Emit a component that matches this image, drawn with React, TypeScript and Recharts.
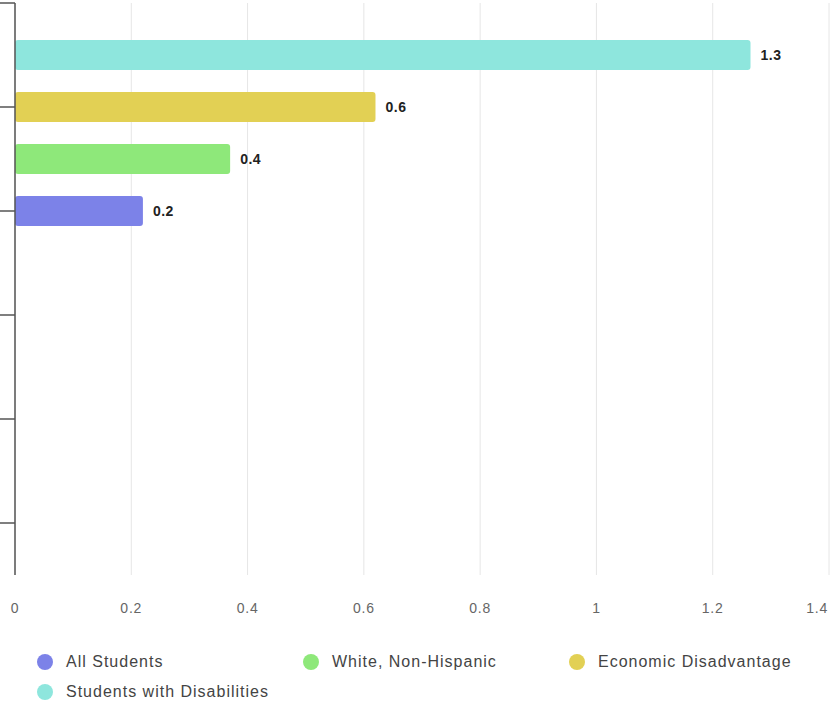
import React from "react"
import {
  BarChart,
  Bar,
  Cell,
  XAxis,
  YAxis,
  CartesianGrid,
  Legend,
  LabelList,
} from "recharts"

const groups = [
  "All Students",
  "White, Non-Hispanic",
  "Economic Disadvantage",
  "Students with Disabilities",
]
const values = [0.22, 0.37, 0.62, 1.265]
const colors = ["#7c82e8", "#8ee87a", "#e2d054", "#8ee6dd"]
const xTicks = [0, 0.2, 0.4, 0.6, 0.8, 1, 1.2, 1.4]
const slotTicks = [0, 2, 4, 6, 8, 10]
const slotCount = 11

// last group sits in the top slot
const rows = groups.map((name, i) => ({
  name,
  value: values[i],
  slot: groups.length - i,
}))

const font = '"Liberation Sans", Arial, sans-serif'

function XTick(props: any) {
  const { x, y, payload } = props
  const last = payload.value === xTicks[xTicks.length - 1]
  return (
    <text
      x={last ? x - 1 : x}
      y={y + 1}
      dy="0.71em"
      textAnchor={last ? "end" : "middle"}
      fill="#666"
      fontSize={14}
      letterSpacing={0.8}
      fontFamily={font}
    >
      {payload.value}
    </text>
  )
}

function LegendBox() {
  return (
    <div
      style={{
        height: 82,
        boxSizing: "border-box",
        paddingTop: 27,
        paddingLeft: 37,
        display: "grid",
        gridTemplateColumns: "266px 266px 266px",
        gridAutoRows: "30px",
        fontFamily: font,
        fontSize: 16,
        letterSpacing: 1,
        color: "#444",
      }}
    >
      {groups.map((g, i) => (
        <div key={g} style={{ display: "flex", alignItems: "center" }}>
          <span
            style={{
              width: 16,
              height: 16,
              borderRadius: 8,
              background: colors[i],
              marginRight: 13,
              flex: "none",
            }}
          />
          <span>{g}</span>
        </div>
      ))}
    </div>
  )
}

export default function App() {
  return (
    <div style={{ position: "absolute", left: 0, top: 0, background: "#fff" }}>
      <BarChart
        width={830}
        height={702}
        data={rows}
        layout="vertical"
        margin={{ top: 3, right: 1, left: 0, bottom: 0 }}
        style={{ fontFamily: font }}
      >
        <CartesianGrid horizontal={false} stroke="#e6e6e6" />
        <XAxis
          type="number"
          domain={[0, 1.4]}
          ticks={xTicks}
          axisLine={false}
          tickLine={false}
          tickSize={0}
          tickMargin={27}
          height={45}
          interval={0}
          tick={<XTick />}
        />
        <YAxis
          type="number"
          dataKey="slot"
          domain={[0, slotCount]}
          ticks={slotTicks}
          interval={0}
          width={15}
          tickSize={15}
          tickFormatter={() => ""}
          axisLine={{ stroke: "#555", strokeWidth: 1.5 }}
          tickLine={{ stroke: "#555", strokeWidth: 1.5 }}
        />
        <Legend
          verticalAlign="bottom"
          wrapperStyle={{ left: 0, width: 830 }}
          content={() => <LegendBox />}
        />
        <Bar dataKey="value" barSize={30} radius={3} isAnimationActive={false}>
          {rows.map((r, i) => (
            <Cell key={r.name} fill={colors[i]} />
          ))}
          <LabelList
            dataKey="value"
            position="right"
            offset={10}
            formatter={(v: any) => (v == null ? "" : Number(v).toFixed(1))}
            style={{
              fill: "#222",
              fontSize: 14,
              fontWeight: "bold",
              letterSpacing: 0.5,
            }}
          />
        </Bar>
      </BarChart>
    </div>
  )
}
